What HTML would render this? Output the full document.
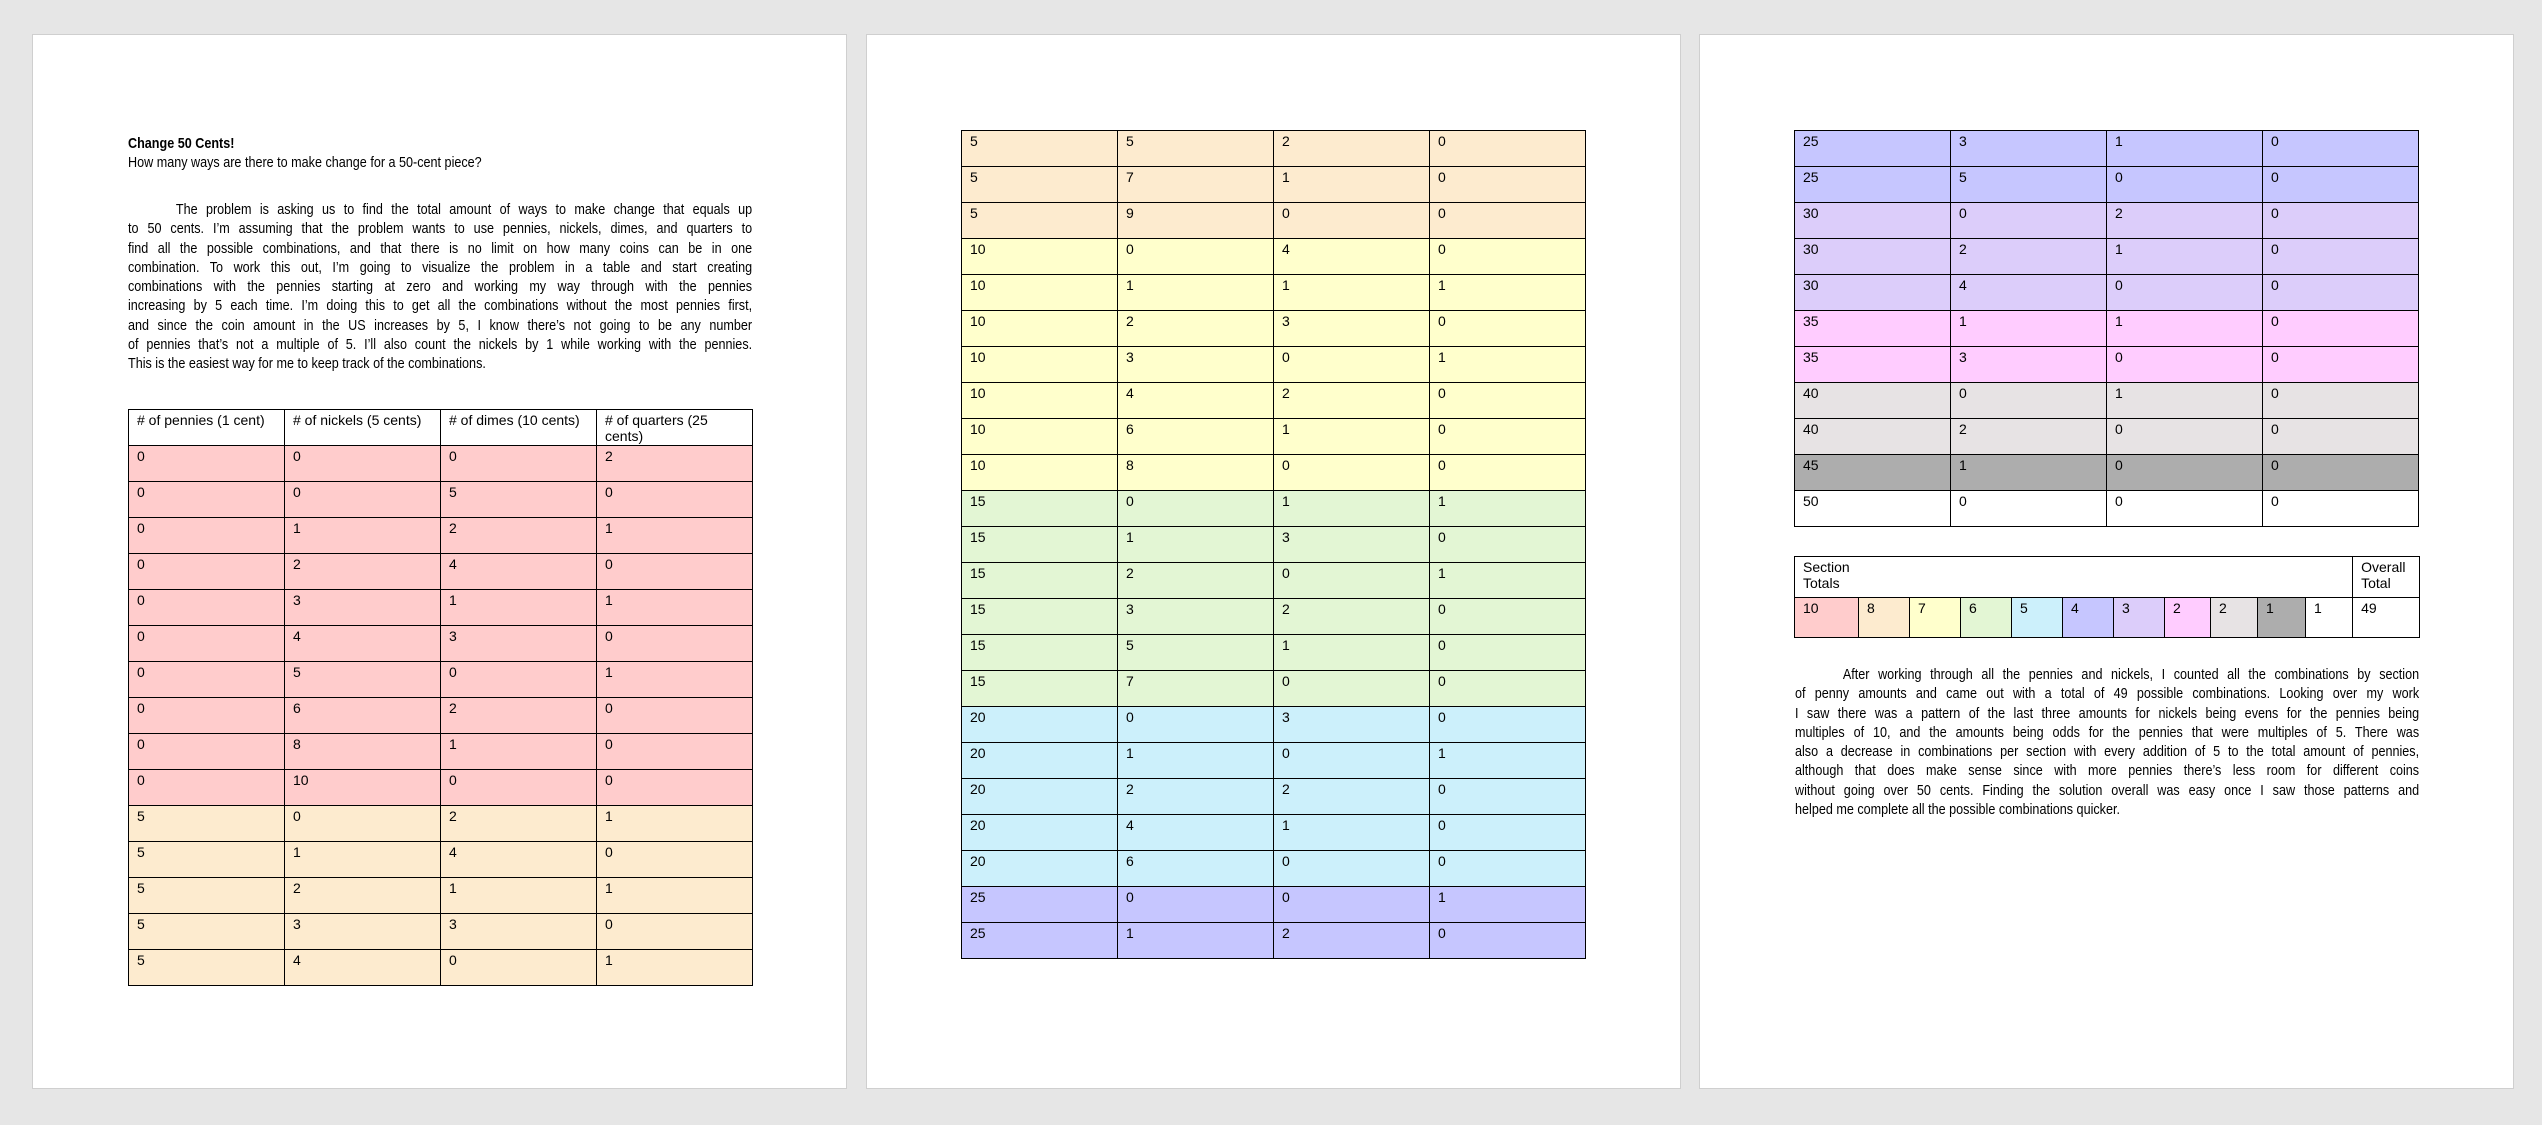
<!DOCTYPE html>
<html><head><meta charset="utf-8"><style>
html,body{margin:0;padding:0;}
body{width:2542px;height:1125px;background:#e6e6e6;position:relative;overflow:hidden;font-family:"Liberation Sans",Arial,sans-serif;color:#000;}
.page{position:absolute;top:34px;width:815px;height:1055px;background:#fff;border:1px solid #cfcfcf;box-sizing:border-box;}
table{position:absolute;border-collapse:collapse;table-layout:fixed;font-size:14px;line-height:16px;}
td{border:1px solid #000;padding:2px 8px 0 8px;vertical-align:top;height:36px;box-sizing:border-box;overflow:hidden;}
.t td{width:156px;}
.txt{position:absolute;font-size:15px;line-height:19.3px;transform:scaleX(0.84);transform-origin:0 0;width:743px;}
.txt div{text-align:justify;text-align-last:justify;white-space:nowrap;}
.txt div.l{text-align-last:left;}
.ind{padding-left:57px;}
.a{background:#ffcccc}.b{background:#fdebcf}.c{background:#ffffcc}.d{background:#e3f6d4}.e{background:#ccf0fb}.f{background:#c6c6ff}.g{background:#dccdfa}.h{background:#ffccff}.i{background:#e7e3e4}.j{background:#adadad}
</style></head><body>
<div class="page" style="left:32px"></div>
<div class="page" style="left:866px"></div>
<div class="page" style="left:1699px"></div>

<div class="txt" style="left:128px;top:134px;">
<div class="l" style="font-weight:bold">Change 50 Cents!</div>
<div class="l">How many ways are there to make change for a 50-cent piece?</div>
</div>
<div class="txt" style="left:128px;top:200px;">
<div class="ind">The problem is asking us to find the total amount of ways to make change that equals up</div>
<div>to 50 cents. I’m assuming that the problem wants to use pennies, nickels, dimes, and quarters to</div>
<div>find all the possible combinations, and that there is no limit on how many coins can be in one</div>
<div>combination. To work this out, I’m going to visualize the problem in a table and start creating</div>
<div>combinations with the pennies starting at zero and working my way through with the pennies</div>
<div>increasing by 5 each time. I’m doing this to get all the combinations without the most pennies first,</div>
<div>and since the coin amount in the US increases by 5, I know there’s not going to be any number</div>
<div>of pennies that’s not a multiple of 5. I’ll also count the nickels by 1 while working with the pennies.</div>
<div class="l">This is the easiest way for me to keep track of the combinations.</div>
</div>

<table class="t" style="left:128px;top:409px;width:625px;">
<tr><td># of pennies (1 cent)</td><td># of nickels (5 cents)</td><td># of dimes (10 cents)</td><td># of quarters (25 cents)</td></tr>
<tr class="a"><td>0</td><td>0</td><td>0</td><td>2</td></tr>
<tr class="a"><td>0</td><td>0</td><td>5</td><td>0</td></tr>
<tr class="a"><td>0</td><td>1</td><td>2</td><td>1</td></tr>
<tr class="a"><td>0</td><td>2</td><td>4</td><td>0</td></tr>
<tr class="a"><td>0</td><td>3</td><td>1</td><td>1</td></tr>
<tr class="a"><td>0</td><td>4</td><td>3</td><td>0</td></tr>
<tr class="a"><td>0</td><td>5</td><td>0</td><td>1</td></tr>
<tr class="a"><td>0</td><td>6</td><td>2</td><td>0</td></tr>
<tr class="a"><td>0</td><td>8</td><td>1</td><td>0</td></tr>
<tr class="a"><td>0</td><td>10</td><td>0</td><td>0</td></tr>
<tr class="b"><td>5</td><td>0</td><td>2</td><td>1</td></tr>
<tr class="b"><td>5</td><td>1</td><td>4</td><td>0</td></tr>
<tr class="b"><td>5</td><td>2</td><td>1</td><td>1</td></tr>
<tr class="b"><td>5</td><td>3</td><td>3</td><td>0</td></tr>
<tr class="b"><td>5</td><td>4</td><td>0</td><td>1</td></tr>
</table>

<table class="t" style="left:961px;top:130px;width:625px;">
<tr class="b"><td>5</td><td>5</td><td>2</td><td>0</td></tr>
<tr class="b"><td>5</td><td>7</td><td>1</td><td>0</td></tr>
<tr class="b"><td>5</td><td>9</td><td>0</td><td>0</td></tr>
<tr class="c"><td>10</td><td>0</td><td>4</td><td>0</td></tr>
<tr class="c"><td>10</td><td>1</td><td>1</td><td>1</td></tr>
<tr class="c"><td>10</td><td>2</td><td>3</td><td>0</td></tr>
<tr class="c"><td>10</td><td>3</td><td>0</td><td>1</td></tr>
<tr class="c"><td>10</td><td>4</td><td>2</td><td>0</td></tr>
<tr class="c"><td>10</td><td>6</td><td>1</td><td>0</td></tr>
<tr class="c"><td>10</td><td>8</td><td>0</td><td>0</td></tr>
<tr class="d"><td>15</td><td>0</td><td>1</td><td>1</td></tr>
<tr class="d"><td>15</td><td>1</td><td>3</td><td>0</td></tr>
<tr class="d"><td>15</td><td>2</td><td>0</td><td>1</td></tr>
<tr class="d"><td>15</td><td>3</td><td>2</td><td>0</td></tr>
<tr class="d"><td>15</td><td>5</td><td>1</td><td>0</td></tr>
<tr class="d"><td>15</td><td>7</td><td>0</td><td>0</td></tr>
<tr class="e"><td>20</td><td>0</td><td>3</td><td>0</td></tr>
<tr class="e"><td>20</td><td>1</td><td>0</td><td>1</td></tr>
<tr class="e"><td>20</td><td>2</td><td>2</td><td>0</td></tr>
<tr class="e"><td>20</td><td>4</td><td>1</td><td>0</td></tr>
<tr class="e"><td>20</td><td>6</td><td>0</td><td>0</td></tr>
<tr class="f"><td>25</td><td>0</td><td>0</td><td>1</td></tr>
<tr class="f"><td>25</td><td>1</td><td>2</td><td>0</td></tr>
</table>

<table class="t" style="left:1794px;top:130px;width:625px;">
<tr class="f"><td>25</td><td>3</td><td>1</td><td>0</td></tr>
<tr class="f"><td>25</td><td>5</td><td>0</td><td>0</td></tr>
<tr class="g"><td>30</td><td>0</td><td>2</td><td>0</td></tr>
<tr class="g"><td>30</td><td>2</td><td>1</td><td>0</td></tr>
<tr class="g"><td>30</td><td>4</td><td>0</td><td>0</td></tr>
<tr class="h"><td>35</td><td>1</td><td>1</td><td>0</td></tr>
<tr class="h"><td>35</td><td>3</td><td>0</td><td>0</td></tr>
<tr class="i"><td>40</td><td>0</td><td>1</td><td>0</td></tr>
<tr class="i"><td>40</td><td>2</td><td>0</td><td>0</td></tr>
<tr class="j"><td>45</td><td>1</td><td>0</td><td>0</td></tr>
<tr><td>50</td><td>0</td><td>0</td><td>0</td></tr>
</table>

<table style="left:1794px;top:556px;width:625px;">
<colgroup><col style="width:64px"><col style="width:51px"><col style="width:51px"><col style="width:51px"><col style="width:51px"><col style="width:51px"><col style="width:51px"><col style="width:46px"><col style="width:47px"><col style="width:48px"><col style="width:47px"><col style="width:67px"></colgroup>
<tr><td colspan="11" style="height:41px">Section<br>Totals</td><td style="height:41px">Overall<br>Total</td></tr>
<tr><td class="a" style="height:40px">10</td><td class="b">8</td><td class="c">7</td><td class="d">6</td><td class="e">5</td><td class="f">4</td><td class="g">3</td><td class="h">2</td><td class="i">2</td><td class="j">1</td><td>1</td><td>49</td></tr>
</table>

<div class="txt" style="left:1795px;top:665px;">
<div class="ind">After working through all the pennies and nickels, I counted all the combinations by section</div>
<div>of penny amounts and came out with a total of 49 possible combinations. Looking over my work</div>
<div>I saw there was a pattern of the last three amounts for nickels being evens for the pennies being</div>
<div>multiples of 10, and the amounts being odds for the pennies that were multiples of 5. There was</div>
<div>also a decrease in combinations per section with every addition of 5 to the total amount of pennies,</div>
<div>although that does make sense since with more pennies there’s less room for different coins</div>
<div>without going over 50 cents. Finding the solution overall was easy once I saw those patterns and</div>
<div class="l">helped me complete all the possible combinations quicker.</div>
</div>
</body></html>
